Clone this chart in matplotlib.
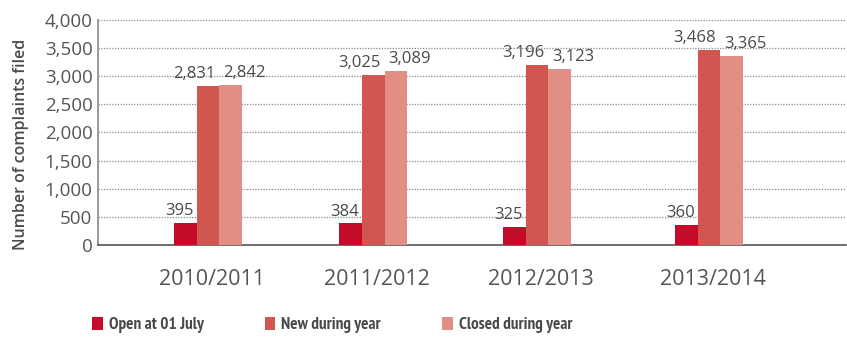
import matplotlib
matplotlib.use("Agg")
import matplotlib.pyplot as plt
from matplotlib.patches import Patch
from matplotlib.ticker import FuncFormatter, MultipleLocator
import numpy as np

years = ["2010/2011", "2011/2012", "2012/2013", "2013/2014"]
open_at_july = [395, 384, 325, 360]
new_during_year = [2831, 3025, 3196, 3468]
closed_during_year = [2842, 3089, 3123, 3365]
series_names = ["Open at 01 July", "New during year", "Closed during year"]
colors = ["#C40C2A", "#D1564F", "#E28E84"]

fig = plt.figure(figsize=(8.47, 3.38), dpi=100)
ax = fig.add_axes([0.1157, 0.275, 0.883, 0.666])

px = 1 / 167.0  # one pixel in x data units
x = np.array([0.0, 0.99, 1.97, 3.0])
w = 22.7 * px
series = [open_at_july, new_during_year, closed_during_year]
label_dx = [-6, -14, 14]
text_col = "#4a4a4a"

for i, (vals, col) in enumerate(zip(series, colors)):
    xs = x + (i - 1) * w
    ax.bar(xs, vals, width=w, color=col, zorder=3, linewidth=0)
    for xi, v in zip(xs, vals):
        ax.text(xi + label_dx[i] * px, v + 70, f"{v:,}", ha="center", va="bottom",
                fontsize=12, color=text_col, family="Open Sans", zorder=4)

ax.set_xlim((98 - 208) / 167.0, (846 - 208) / 167.0)
ax.set_ylim(0, 4000)
ax.yaxis.set_major_locator(MultipleLocator(500))
ax.yaxis.set_major_formatter(FuncFormatter(lambda v, p: f"{int(v):,}"))
ax.grid(axis="y", linestyle=(0, (1, 1.2)), color="#8a8a8a", linewidth=0.9, zorder=0)
ax.set_xticks(x + 4 * px)
ax.set_xticklabels(years)
ax.tick_params(axis="both", length=0, labelcolor="#555555")
ax.tick_params(axis="x", pad=17, labelsize=15.5)
ax.tick_params(axis="y", pad=4, labelsize=13.5)
for lab in ax.get_xticklabels() + ax.get_yticklabels():
    lab.set_family("Open Sans")

for s in ["top", "right"]:
    ax.spines[s].set_visible(False)
ax.spines["left"].set_color("#8a8a8a")
ax.spines["left"].set_linewidth(1.2)
ax.spines["bottom"].set_color("#555555")
ax.spines["bottom"].set_linewidth(1.2)

fig.text(0.025, 0.572, "Number of complaints filed", rotation=90, ha="center", va="center",
         fontsize=11.5, fontweight=600, color="#4a4a4a", family="Open Sans")

handles = [Patch(facecolor=c, edgecolor="none") for c in colors]
leg = fig.legend(handles, series_names, loc="center left", bbox_to_anchor=(0.109, 0.038),
                 ncol=3, frameon=False, handlelength=0.6, handleheight=0.75,
                 handletextpad=0.35, columnspacing=3.6, borderaxespad=0, borderpad=0,
                 prop={"family": "PT Sans Narrow", "size": 12.3, "weight": "bold"})
for t in leg.get_texts():
    t.set_color("#4a4a4a")

fig.savefig("out.png", dpi=100)
